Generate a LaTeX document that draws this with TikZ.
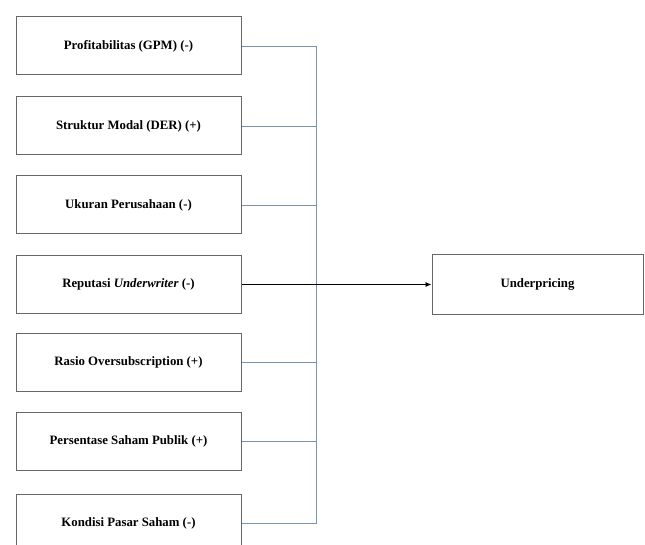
\documentclass[tikz,border=0pt]{standalone}
\usepackage{fontspec}
\setmainfont{Liberation Serif}
\usetikzlibrary{arrows.meta}
\definecolor{linkblue}{RGB}{120,148,178}

\tikzset{
    var/.style={draw=gray!80!black, line width=1pt, minimum width=225pt, minimum height=58pt,
        font=\fontsize{12.8}{14}\selectfont\bfseries, inner sep=0pt},
    link/.style={draw=linkblue, line width=0.9pt}
}

\begin{document}
\begin{tikzpicture}[x=1pt, y=-1pt]
        \useasboundingbox (0,0) rectangle (645,545);
        \node[var] at (128.5,46) (GPM) {Profitabilitas (GPM) (-)};
        \node[var] at (128.5,126) (DER) {Struktur Modal (DER) (+)};
        \node[var] at (128.5,205) (SIZE) {Ukuran Perusahaan (-)};
        \node[var] at (128.5,284.5) (REP) {Reputasi \textit{Underwriter} (-)};
        \node[var] at (128.5,362.5) (OVER) {Rasio Oversubscription (+)};
        \node[var] at (128.5,441) (PUB) {Persentase Saham Publik (+)};
        \node[var] at (128.5,523) (MKT) {Kondisi Pasar Saham (-)};
        \node[var, minimum width=211pt, minimum height=59pt] at (537.5,284.5) (UP) {Underpricing};
        \coordinate (top) at (316,46);
        \coordinate (bot) at (316,523);
        \draw[link] (GPM) -- (top) -- (bot) -- (MKT);
        \draw[link] (DER) -- (DER -| top);
        \draw[link] (SIZE) -- (SIZE -| top);
        \draw[link] (OVER) -- (OVER -| top);
        \draw[link] (PUB) -- (PUB -| top);
        \draw[-{Latex[length=6pt,width=5pt]}, line width=0.9pt] (REP) -- (UP);
    \end{tikzpicture}
\end{document}
